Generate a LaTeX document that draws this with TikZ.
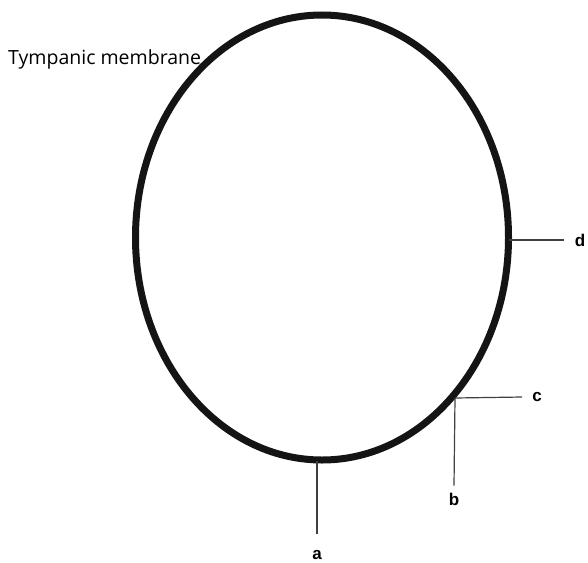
\documentclass[tikz,border=0pt]{standalone}
\usepackage{fontspec}
\setmainfont{Open Sans}
\newfontfamily\labfont{Liberation Sans}
\begin{document}
\begin{tikzpicture}[x=1pt,y=-1pt,
  membrane/.style={line width=7pt,black!92},
  leader/.style={line width=1.2pt,black!75},
  lab/.style={inner sep=0pt,font=\labfont\fontsize{17}{17}\selectfont\bfseries},
  title/.style={inner sep=0pt,anchor=base west,font=\fontsize{19.5}{21}\selectfont}]
\useasboundingbox[fill=white] (0,0) rectangle (588,562);
\draw[membrane] (322,237.5) ellipse [x radius=186.5, y radius=222.5];
\coordinate (pd) at (509,240);
\coordinate (pc) at (455,398);
\coordinate (pa) at (317,461);
\node[title] (tm) at (8,64) {Tympanic membrane};
\node[lab] (d) at (580,240) {d};
\node[lab] (c) at (537,397) {c};
\node[lab] (b) at (454,499) {b};
\node[lab] (a) at (317,555) {a};
\draw[leader] (pd) -- ([xshift=-11pt]d.west);
\draw[leader] (pc) -- ([xshift=-10pt]c.west);
\draw[leader] (pc) -- ([yshift=7pt]b.north);
\draw[leader] (pa) -- ([yshift=16pt]a.north);
\end{tikzpicture}
\end{document}
